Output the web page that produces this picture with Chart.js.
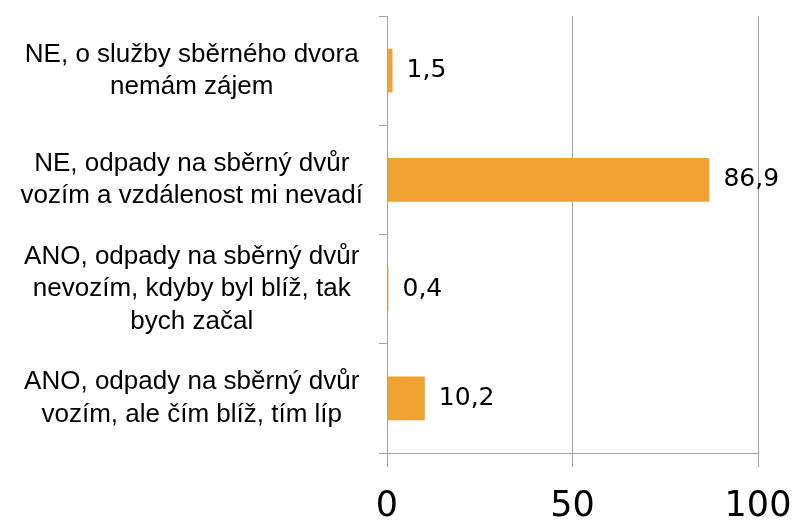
<!DOCTYPE html>
<html>
<head>
<meta charset="utf-8">
<script src="https://cdn.jsdelivr.net/npm/chart.js@4"></script>
<style>
html,body{margin:0;padding:0;background:#fff;}
#wrap{width:796px;height:521px;}
</style>
</head>
<body>
<div id="wrap"><canvas id="c" width="796" height="521"></canvas></div>
<script>
const categories = [
  ["NE, o služby sběrného dvora", "nemám zájem"],
  ["NE, odpady na sběrný dvůr", "vozím a vzdálenost mi nevadí"],
  ["ANO, odpady na sběrný dvůr", "nevozím, kdyby byl blíž, tak", "bych začal"],
  ["ANO, odpady na sběrný dvůr", "vozím, ale čím blíž, tím líp"]
];
const values = [1.5, 86.9, 0.4, 10.2];
const xTicks = [0, 50, 100];

const barColor = "#F0A332";
const lineColor = "#a3a3a3";

/* value labels next to bars */
const valueLabels = {
  id: "valueLabels",
  afterDatasetsDraw(chart) {
    const ctx = chart.ctx;
    const meta = chart.getDatasetMeta(0);
    ctx.save();
    ctx.font = "25px 'DejaVu Sans'";
    ctx.fillStyle = "#000";
    ctx.textAlign = "left";
    ctx.textBaseline = "middle";
    meta.data.forEach((el, i) => {
      ctx.fillText(String(values[i]).replace(".", ","), el.x + 14, el.y);
    });
    ctx.restore();
  }
};

new Chart(document.getElementById("c"), {
  type: "bar",
  data: {
    labels: categories,
    datasets: [{
      data: values,
      backgroundColor: barColor,
      borderWidth: 0,
      categoryPercentage: 1,
      barPercentage: 0.4
    }]
  },
  options: {
    indexAxis: "y",
    responsive: false,
    animation: false,
    layout: { padding: { top: 16, right: 38, left: 0, bottom: 0 } },
    plugins: { legend: { display: false }, tooltip: { enabled: false } },
    scales: {
      x: {
        min: 0,
        max: 100,
        afterBuildTicks(s) { s.ticks = xTicks.map(v => ({ value: v })); },
        afterFit(s) { s.height = 68; s.paddingLeft = 0; s.paddingRight = 0; },
        ticks: {
          color: "#000",
          padding: 19,
          font: { family: "DejaVu Sans", size: 35 }
        },
        grid: { color: lineColor, tickLength: 14 },
        border: { color: lineColor }
      },
      y: {
        afterFit(s) { s.width = 387; s.paddingTop = 0; s.paddingBottom = 0; },
        ticks: {
          color: "#000",
          crossAlign: "center",
          padding: 16,
          font: { family: "Liberation Sans", size: 26, lineHeight: 1.24 }
        },
        grid: { drawOnChartArea: false, color: lineColor, tickLength: 8 },
        border: { color: lineColor }
      }
    }
  },
  plugins: [valueLabels]
});
</script>
</body>
</html>
